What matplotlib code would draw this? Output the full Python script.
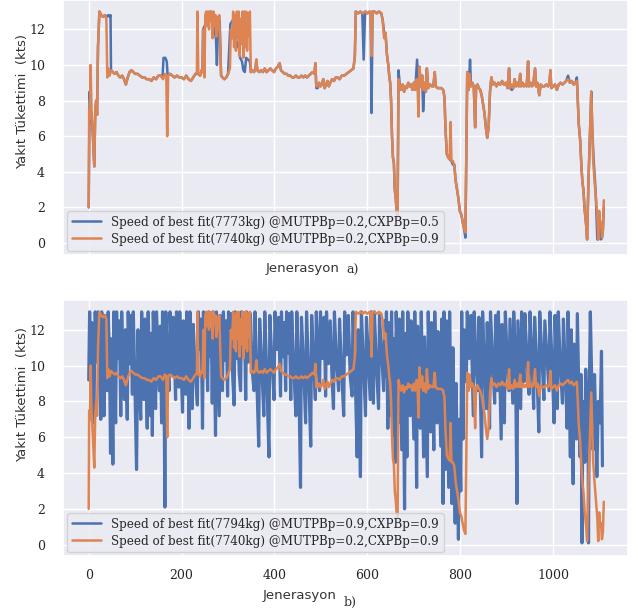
import numpy as np
import matplotlib
matplotlib.use("Agg")
import matplotlib.pyplot as plt
import seaborn as sns

sns.set_theme(style="darkgrid")

# orange run (7740kg, MUTPB 0.2, CXPB 0.9) - drawn in both panels
orange_gen = [0, 1, 3, 4, 6, 9, 12, 14, 16, 18, 20, 23, 27, 31, 35, 38, 40, 42, 45, 48,
              52, 56, 60, 64, 68, 72, 76, 80, 84, 88, 92, 96, 100, 105, 110, 115, 120, 125, 130, 135,
              140, 145, 150, 155, 160, 164, 167, 169, 171, 175, 180, 185, 190, 195, 200, 205, 210, 215, 220, 225,
              230, 233, 234, 236, 240, 243, 245, 247, 249, 251, 253, 255, 257, 259, 261, 263, 265, 267, 269, 271,
              273, 275, 277, 279, 281, 283, 285, 288, 292, 296, 300, 304, 306, 309, 311, 313, 315, 317, 319, 321,
              323, 325, 327, 329, 331, 333, 335, 337, 339, 341, 343, 345, 347, 349, 352, 356, 359, 361, 363, 367,
              371, 375, 379, 383, 387, 391, 395, 399, 403, 407, 411, 414, 418, 422, 426, 430, 434, 438, 442, 446,
              450, 454, 458, 462, 466, 470, 474, 478, 482, 486, 488, 490, 493, 496, 499, 502, 505, 508, 511, 514,
              517, 520, 524, 528, 532, 536, 540, 545, 550, 555, 560, 565, 570, 573, 575, 580, 585, 590, 595, 600,
              605, 607, 609, 611, 615, 620, 625, 630, 633, 636, 639, 642, 645, 647, 649, 651, 653, 655, 657, 659,
              661, 663, 665, 667, 670, 673, 676, 679, 682, 685, 688, 691, 694, 697, 700, 703, 706, 708, 710, 712,
              715, 718, 720, 723, 726, 728, 731, 735, 739, 742, 745, 747, 751, 755, 759, 763, 766, 768, 771, 774,
              777, 779, 781, 784, 787, 790, 793, 796, 799, 802, 805, 808, 811, 813, 815, 818, 820, 823, 826, 829,
              832, 834, 837, 840, 843, 846, 849, 852, 855, 858, 861, 864, 867, 870, 874, 878, 882, 886, 890, 894,
              898, 902, 905, 907, 910, 914, 917, 920, 923, 926, 929, 931, 934, 937, 940, 943, 946, 948, 951, 954,
              957, 961, 963, 966, 970, 973, 977, 981, 985, 989, 992, 994, 996, 1000, 1004, 1008, 1012, 1016, 1020, 1024,
              1028, 1032, 1036, 1040, 1044, 1048, 1051, 1053, 1055, 1058, 1061, 1063, 1065, 1068, 1071, 1073, 1076, 1079, 1082, 1084,
              1086, 1089, 1092, 1095, 1097, 1099, 1101, 1103, 1105, 1107, 1109]
orange_val = [2.0, 7.5, 7.0, 10.0, 7.5, 6.0, 4.3, 7.3, 8.0, 7.2, 11.0, 13.0, 12.8, 12.7, 12.8, 12.6, 9.3, 9.8, 9.4, 9.7,
              9.6, 9.5, 9.6, 9.4, 9.3, 9.4, 9.2, 8.9, 9.3, 9.6, 9.7, 9.6, 9.5, 9.5, 9.4, 9.3, 9.3, 9.2, 9.2, 9.1,
              9.3, 9.2, 9.4, 9.4, 9.2, 9.5, 9.4, 6.0, 9.4, 9.5, 9.4, 9.3, 9.4, 9.3, 9.3, 9.2, 9.4, 9.2, 9.1, 9.3,
              9.5, 9.6, 13.0, 9.5, 9.4, 9.7, 9.6, 12.0, 9.3, 12.8, 13.0, 12.2, 13.0, 12.0, 13.0, 12.5, 13.0, 11.5, 13.0, 12.4,
              12.8, 11.6, 12.7, 12.0, 12.8, 11.0, 9.4, 9.3, 9.2, 9.3, 9.5, 9.8, 12.0, 11.5, 13.0, 11.0, 12.8, 10.8, 13.0, 11.5,
              13.0, 10.5, 12.6, 11.2, 13.0, 10.4, 13.0, 11.0, 13.0, 10.8, 12.9, 11.6, 13.0, 9.6, 9.7, 9.6, 9.8, 10.3, 9.7, 9.6,
              9.7, 9.6, 9.8, 9.6, 9.7, 9.8, 9.7, 9.6, 9.8, 9.9, 10.1, 9.7, 9.6, 9.5, 9.5, 9.4, 9.4, 9.3, 9.3, 9.4,
              9.3, 9.3, 9.4, 9.3, 9.4, 9.3, 9.4, 9.5, 9.6, 9.5, 10.1, 8.8, 8.8, 9.0, 8.8, 8.9, 9.2, 8.7, 8.9, 9.1,
              8.8, 9.0, 9.2, 9.1, 9.3, 9.3, 9.2, 9.4, 9.4, 9.5, 9.6, 9.7, 9.8, 10.5, 13.0, 12.9, 13.0, 12.9, 13.0, 12.9,
              13.0, 12.8, 10.5, 13.0, 13.0, 12.9, 13.0, 12.9, 12.5, 11.5, 11.8, 10.6, 10.0, 9.4, 9.0, 8.0, 6.0, 4.8, 4.5, 3.0,
              2.5, 1.8, 1.5, 9.2, 8.8, 8.6, 8.9, 8.5, 8.8, 8.7, 9.0, 8.8, 8.9, 8.6, 9.0, 8.6, 9.2, 8.8, 7.1, 9.9,
              8.8, 9.4, 8.6, 9.0, 8.5, 9.8, 8.7, 8.9, 8.8, 8.8, 9.6, 8.8, 8.7, 8.7, 8.7, 8.6, 8.2, 6.5, 5.0, 4.8,
              4.7, 6.8, 4.6, 4.6, 4.4, 3.5, 3.0, 2.5, 1.8, 1.6, 1.2, 0.8, 0.6, 5.0, 9.6, 8.6, 9.5, 8.8, 9.0, 8.8,
              6.5, 8.8, 8.9, 8.7, 8.6, 8.3, 7.8, 7.3, 6.5, 5.9, 6.5, 8.5, 9.3, 8.9, 9.0, 8.8, 9.0, 8.9, 9.1, 8.9,
              9.0, 8.7, 9.8, 8.7, 8.9, 8.7, 9.2, 8.8, 9.0, 8.8, 9.5, 8.8, 9.0, 8.8, 8.9, 8.8, 10.2, 8.8, 9.0, 8.8,
              8.9, 9.8, 8.8, 9.0, 8.3, 8.9, 8.8, 8.8, 8.9, 8.8, 9.0, 9.7, 8.7, 8.8, 8.9, 8.6, 8.9, 9.0, 8.9, 9.0,
              9.1, 9.2, 9.0, 9.1, 8.9, 9.0, 9.1, 8.0, 6.7, 5.8, 4.2, 3.4, 3.0, 1.8, 1.0, 0.2, 3.5, 6.0, 8.5, 6.5,
              4.7, 3.5, 2.5, 1.5, 0.2, 1.8, 1.0, 1.2, 0.3, 0.7, 2.4]

# blue run of panel a (7773kg, MUTPB 0.2, CXPB 0.5)
blue_a_gen = [0, 2, 4, 6, 9, 12, 14, 16, 18, 20, 23, 27, 31, 35, 38, 42, 45, 47, 48,
              52, 56, 60, 64, 68, 72, 76, 80, 84, 88, 92, 96, 100, 105, 110, 115, 120, 125, 130, 135,
              140, 145, 150, 155, 159, 161, 165, 168, 170, 175, 180, 185, 190, 195, 200, 205, 210, 215, 220, 225,
              230, 236, 240, 243, 245, 246, 250, 254, 258, 262, 266, 270, 274, 276, 278, 282, 285, 288, 292, 296,
              300, 305, 310, 315, 318, 322, 326, 330, 333, 336, 339, 343, 347, 349, 352, 356, 359, 361, 363, 367,
              371, 375, 379, 383, 387, 391, 395, 399, 403, 407, 411, 414, 418, 422, 426, 430, 434, 438, 442, 446,
              450, 454, 458, 462, 466, 470, 474, 478, 482, 486, 488, 490, 493, 496, 499, 502, 505, 508, 511, 514,
              517, 520, 524, 528, 532, 536, 540, 545, 550, 555, 560, 565, 570, 573, 575, 580, 585, 589, 592, 595,
              600, 605, 607, 609, 611, 615, 620, 625, 630, 633, 636, 639, 642, 645, 647, 649, 651, 653, 655, 657,
              659, 661, 663, 665, 667, 670, 673, 676, 679, 682, 685, 688, 691, 694, 697, 700, 703, 707, 709, 712,
              715, 718, 720, 723, 726, 728, 731, 735, 739, 742, 745, 747, 751, 755, 759, 763, 766, 768, 771, 774,
              777, 781, 784, 787, 790, 793, 796, 799, 802, 805, 808, 811, 813, 815, 818, 821, 823, 826, 829,
              832, 834, 837, 840, 843, 846, 849, 852, 855, 858, 861, 864, 867, 870, 874, 878, 882, 886, 890, 894,
              898, 902, 905, 907, 911, 914, 917, 920, 923, 926, 929, 931, 934, 937, 940, 943, 946, 948, 951, 954,
              957, 961, 963, 966, 970, 973, 977, 981, 985, 989, 992, 994, 996, 1000, 1004, 1008, 1012, 1016, 1020, 1024,
              1028, 1032, 1036, 1040, 1044, 1048, 1051, 1053, 1055, 1058, 1061, 1063, 1065, 1068, 1071, 1073, 1076, 1079, 1082, 1084,
              1087, 1090, 1092, 1095, 1097, 1099, 1101, 1103, 1105, 1107, 1109]
blue_a_val = [2.0, 8.5, 7.5, 7.2, 6.0, 4.3, 7.3, 8.0, 7.2, 11.0, 13.0, 12.8, 12.7, 12.8, 12.7, 12.8, 12.7, 12.8, 9.7,
              9.6, 9.5, 9.6, 9.4, 9.3, 9.4, 9.2, 8.9, 9.3, 9.6, 9.7, 9.6, 9.5, 9.5, 9.4, 9.3, 9.3, 9.2, 9.2, 9.1,
              9.3, 9.2, 9.4, 9.4, 9.3, 10.4, 10.4, 10.2, 9.4, 9.5, 9.4, 9.3, 9.4, 9.3, 9.3, 9.2, 9.4, 9.2, 9.1, 9.3,
              9.5, 9.5, 9.4, 9.7, 9.6, 12.0, 12.2, 12.5, 12.9, 13.0, 12.5, 12.0, 11.5, 10.0, 11.8, 12.5, 9.4, 9.3, 9.2, 9.3,
              9.5, 12.3, 12.5, 12.0, 11.0, 11.3, 10.4, 10.2, 9.7, 9.6, 10.4, 10.3, 10.2, 9.6, 9.7, 9.6, 9.8, 10.3, 9.7, 9.6,
              9.7, 9.6, 9.8, 9.6, 9.7, 9.8, 9.7, 9.6, 9.8, 9.9, 10.1, 9.7, 9.6, 9.5, 9.5, 9.4, 9.4, 9.3, 9.3, 9.4,
              9.3, 9.3, 9.4, 9.3, 9.4, 9.3, 9.4, 9.5, 9.6, 9.5, 10.1, 8.7, 8.7, 9.0, 8.8, 8.9, 9.2, 8.7, 8.9, 9.1,
              8.8, 9.0, 9.2, 9.1, 9.3, 9.3, 9.2, 9.4, 9.4, 9.5, 9.6, 9.7, 9.8, 10.5, 13.0, 12.9, 13.0, 12.9, 10.3, 13.0,
              12.9, 13.0, 12.8, 7.3, 13.0, 13.0, 12.9, 13.0, 12.9, 12.5, 11.8, 11.8, 10.6, 10.0, 9.4, 9.0, 8.0, 6.0, 4.8, 4.5,
              3.0, 2.5, 1.8, 1.5, 9.7, 8.8, 8.6, 8.9, 8.5, 8.8, 8.7, 9.0, 8.8, 8.9, 8.6, 9.0, 8.6, 10.3, 8.8, 9.9,
              8.8, 9.4, 7.4, 9.0, 8.5, 9.8, 8.7, 8.9, 8.8, 8.8, 9.6, 8.8, 8.7, 8.7, 8.7, 8.6, 8.2, 6.5, 5.0, 4.8,
              4.7, 4.6, 4.4, 4.4, 3.5, 3.0, 2.5, 1.8, 1.6, 1.2, 0.8, 0.3, 5.0, 9.6, 8.6, 10.3, 8.8, 9.0, 8.8,
              6.5, 8.8, 8.9, 8.7, 8.6, 8.3, 7.8, 7.3, 6.5, 5.9, 6.5, 8.5, 9.3, 8.9, 9.0, 8.8, 9.0, 8.9, 9.1, 8.9,
              9.0, 8.7, 9.8, 8.7, 8.6, 8.7, 9.2, 8.8, 9.0, 8.8, 9.5, 8.8, 9.0, 8.8, 8.9, 8.8, 10.2, 8.8, 9.0, 8.8,
              8.9, 9.8, 8.8, 9.0, 8.3, 8.9, 8.8, 8.8, 8.9, 8.8, 9.0, 9.7, 8.7, 8.8, 8.9, 8.6, 8.9, 9.0, 8.9, 9.0,
              9.1, 9.4, 9.0, 9.1, 8.9, 9.0, 9.3, 8.0, 6.7, 5.8, 4.2, 3.4, 3.0, 1.8, 1.0, 0.2, 3.5, 6.0, 8.5, 6.5,
              4.7, 3.5, 2.5, 0.2, 0.2, 1.5, 1.0, 0.2, 0.3, 0.7, 2.0]

# blue run of panel b (7794kg, MUTPB 0.9, CXPB 0.9)
blue_b_gen = [0, 2, 5, 7, 11, 14, 17, 20, 23, 26, 28, 31, 33, 35, 38, 40, 42, 45, 47, 49,
              52, 54, 56, 58, 60, 63, 66, 69, 71, 74, 77, 79, 83, 85, 88, 91, 94, 96, 99, 103,
              106, 109, 112, 114, 117, 119, 121, 124, 126, 128, 131, 133, 135, 137, 139, 142, 144, 146, 149, 152,
              154, 157, 159, 162, 164, 166, 169, 173, 175, 178, 180, 182, 185, 187, 189, 192, 194, 196, 199, 202,
              204, 207, 209, 211, 214, 216, 218, 221, 223, 225, 229, 234, 236, 239, 242, 245, 247, 250, 253, 256,
              258, 261, 264, 266, 268, 271, 273, 275, 278, 281, 283, 286, 288, 290, 293, 296, 299, 301, 304, 307,
              310, 313, 315, 318, 321, 324, 327, 329, 332, 335, 338, 340, 344, 348, 352, 356, 358, 361, 366, 368,
              372, 377, 379, 383, 388, 390, 394, 399, 401, 405, 409, 413, 415, 418, 421, 424, 426, 429, 432, 435,
              437, 441, 446, 448, 452, 456, 458, 462, 467, 469, 473, 478, 480, 484, 488, 490, 494, 497, 499, 503,
              507, 510, 512, 516, 520, 524, 527, 529, 533, 538, 540, 544, 549, 551, 555, 559, 563, 567, 569, 573,
              578, 580, 585, 587, 591, 596, 598, 602, 606, 608, 611, 613, 615, 619, 624, 626, 630, 635, 637, 639,
              641, 644, 646, 650, 652, 656, 658, 660, 662, 665, 667, 669, 674, 676, 680, 682, 685, 687, 690, 692,
              694, 700, 702, 706, 708, 711, 714, 716, 721, 723, 729, 731, 736, 738, 743, 745, 750, 752, 758, 760,
              763, 765, 768, 770, 775, 777, 782, 784, 789, 791, 796, 798, 801, 803, 806, 808, 813, 815, 819, 823,
              828, 830, 834, 838, 840, 846, 848, 852, 856, 858, 863, 865, 869, 874, 876, 880, 882, 888, 890, 895,
              897, 901, 905, 907, 913, 915, 919, 922, 924, 930, 932, 935, 937, 939, 944, 948, 950, 954, 958, 960,
              965, 969, 971, 976, 980, 982, 987, 991, 993, 998, 1002, 1004, 1009, 1011, 1015, 1020, 1022, 1026, 1030, 1032,
              1037, 1039, 1043, 1045, 1050, 1052, 1058, 1060, 1062, 1064, 1068, 1070, 1073, 1075, 1076, 1078, 1080, 1083, 1086, 1089,
              1094, 1097, 1101, 1104, 1106]
blue_b_val = [9.2, 13.0, 8.5, 12.4, 6.8, 13.0, 10.2, 13.0, 9.5, 7.0, 13.0, 10.5, 7.2, 12.8, 9.8, 8.6, 13.0, 10.0, 5.1, 11.5,
              4.5, 13.0, 9.0, 6.8, 13.0, 10.4, 12.5, 7.2, 13.0, 9.6, 8.1, 12.0, 7.0, 13.0, 10.1, 12.8, 8.4, 13.0, 9.5, 4.2,
              12.0, 9.0, 7.0, 13.0, 10.3, 8.1, 12.6, 9.2, 6.5, 13.0, 9.9, 7.2, 11.8, 6.1, 13.0, 10.0, 7.6, 13.0, 10.8, 8.6,
              12.2, 6.8, 13.0, 9.4, 2.1, 13.0, 10.5, 8.6, 13.0, 11.0, 9.5, 12.7, 10.2, 8.1, 13.0, 10.6, 8.8, 13.0, 9.9, 7.4,
              12.5, 10.0, 8.4, 13.0, 9.7, 6.5, 13.0, 10.4, 7.6, 12.3, 9.8, 7.8, 13.0, 10.9, 12.6, 6.5, 13.0, 10.2, 12.8, 8.6,
              13.0, 10.5, 12.0, 7.9, 13.0, 9.6, 6.1, 13.0, 10.2, 7.2, 12.8, 10.8, 8.6, 13.0, 10.3, 12.5, 8.3, 13.0, 10.7, 12.9,
              9.4, 7.8, 13.0, 10.4, 12.6, 9.6, 8.6, 13.0, 10.6, 12.7, 8.1, 13.0, 10.2, 12.9, 9.7, 8.6, 13.0, 10.1, 5.5, 12.6,
              10.3, 7.2, 13.0, 9.8, 4.9, 12.8, 10.5, 8.1, 13.0, 10.9, 12.7, 8.3, 13.0, 10.5, 12.4, 8.6, 13.0, 10.7, 12.9, 8.1,
              13.0, 10.2, 7.2, 13.0, 9.8, 3.2, 12.7, 10.4, 6.8, 13.0, 9.9, 5.5, 12.8, 10.2, 8.1, 13.0, 10.6, 8.6, 13.0, 10.4,
              12.7, 8.3, 13.0, 10.1, 12.5, 9.2, 7.6, 13.0, 10.4, 8.6, 12.6, 10.0, 7.2, 13.0, 10.6, 12.8, 9.4, 8.3, 13.0, 10.2,
              4.9, 12.0, 3.8, 13.0, 10.5, 7.2, 12.7, 10.4, 8.1, 13.0, 10.6, 7.9, 13.0, 10.3, 7.6, 12.8, 10.9, 8.6, 12.5, 9.4,
              13.0, 6.5, 12.4, 7.2, 13.0, 6.1, 11.5, 4.6, 13.0, 9.8, 6.8, 12.6, 5.3, 13.0, 2.0, 11.8, 4.9, 13.0, 10.2, 7.2,
              12.5, 5.9, 13.0, 3.2, 12.2, 9.5, 6.5, 13.0, 4.9, 11.6, 3.8, 13.0, 6.3, 12.4, 5.3, 13.0, 6.8, 11.9, 5.5, 12.6,
              2.3, 13.0, 4.2, 12.5, 3.2, 13.0, 2.3, 11.0, 1.2, 9.0, 0.3, 7.0, 3.0, 13.0, 5.9, 12.0, 9.1, 13.0, 10.4, 12.8,
              7.2, 13.0, 10.2, 8.6, 12.7, 4.9, 13.0, 10.1, 7.6, 12.4, 6.5, 13.0, 10.6, 7.9, 12.8, 8.6, 13.0, 5.9, 12.3, 6.8,
              13.0, 10.3, 8.6, 12.6, 7.9, 13.0, 10.0, 2.3, 12.5, 7.6, 13.0, 10.8, 9.1, 12.9, 10.2, 8.4, 13.0, 10.6, 7.6, 12.7,
              9.8, 6.3, 13.0, 10.4, 8.1, 12.5, 10.3, 8.6, 13.0, 9.9, 6.8, 12.8, 7.6, 13.0, 10.2, 7.9, 12.6, 9.8, 6.5, 13.0,
              4.9, 12.0, 3.4, 11.2, 5.9, 12.9, 4.9, 9.5, 0.1, 8.0, 4.6, 9.8, 6.8, 8.5, 0.1, 9.0, 13.0, 9.0, 5.3, 9.5,
              3.8, 8.0, 6.8, 10.8, 4.4]

labels_a = ["Speed of best fit(7773kg) @MUTPBp=0.2,CXPBp=0.5",
            "Speed of best fit(7740kg) @MUTPBp=0.2,CXPBp=0.9"]
labels_b = ["Speed of best fit(7794kg) @MUTPBp=0.9,CXPBp=0.9",
            "Speed of best fit(7740kg) @MUTPBp=0.2,CXPBp=0.9"]
y_label = "Yakıt Tükettimi  (kts)"
x_label = "Jenerasyon"

blue = "#4C72B0"
orange = "#DD8452"
serif = ["DejaVu Serif"]
sans = ["DejaVu Sans"]

fig = plt.figure(figsize=(6.38, 6.14), dpi=100)
ax1 = fig.add_axes([0.099, 0.5855, 0.886, 0.4145])
ax2 = fig.add_axes([0.099, 0.094, 0.886, 0.417])

ax1.plot(blue_a_gen, blue_a_val, color=blue, lw=1.8, label=labels_a[0])
ax1.plot(orange_gen, orange_val, color=orange, lw=1.8, label=labels_a[1])
ax2.plot(blue_b_gen, blue_b_val, color=blue, lw=2.3, label=labels_b[0])
ax2.plot(orange_gen, orange_val, color=orange, lw=1.8, label=labels_b[1])

for ax in (ax1, ax2):
    ax.set_xlim(-55, 1162)
    ax.set_ylim(-0.65, 13.65)
    ax.set_xticks([0, 200, 400, 600, 800, 1000])
    ax.set_yticks([0, 2, 4, 6, 8, 10, 12])
    ax.tick_params(axis="y", pad=7)
    ax.tick_params(axis="x", pad=3)
    for t in ax.get_yticklabels() + ax.get_xticklabels():
        t.set_family(serif)
        t.set_fontsize(9)
    leg = ax.legend(loc="lower left", prop={"family": serif, "size": 9.5, "stretch": "condensed"},
                    borderaxespad=0.3, handlelength=2.2, borderpad=0.35, labelspacing=0.3)
    for line in leg.get_lines():
        line.set_linewidth(1.8)
ax1.set_xticklabels([])

fig.text(0.035, 0.835, y_label, rotation=90, ha="center", va="center", family=sans, fontsize=9.5, color="#333333")
fig.text(0.035, 0.357, y_label, rotation=90, ha="center", va="center", family=sans, fontsize=9.5, color="#333333")
fig.text(0.475, 0.5635, x_label, ha="center", va="center", family=sans, fontsize=9.5, color="#333333")
fig.text(0.543, 0.5595, "a)", ha="left", va="center", family=serif, fontsize=9, color="#333333")
fig.text(0.470, 0.030, x_label, ha="center", va="center", family=sans, fontsize=9.5, color="#333333")
fig.text(0.538, 0.018, "b)", ha="left", va="center", family=serif, fontsize=9, color="#333333")

fig.savefig("out.png", dpi=100)
